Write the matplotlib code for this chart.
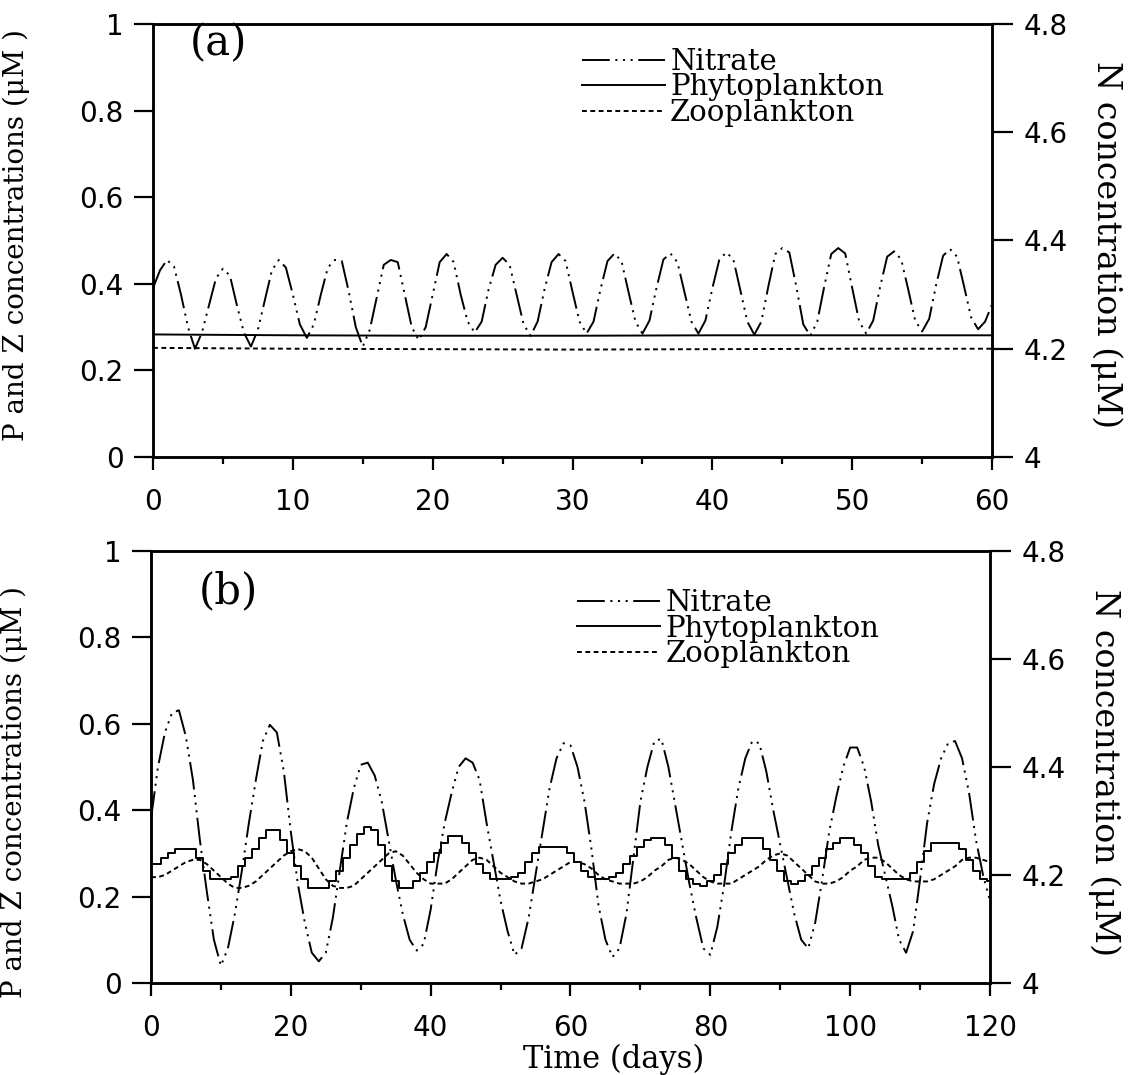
import numpy as np
import matplotlib.pyplot as plt

plt.rcParams['font.family'] = 'DejaVu Serif'
plt.rcParams['lines.scale_dashes'] = False

# (a) 60-day run, nitrate sampled every half day (uM N)
days_a = np.arange(0, 60.5, 0.5)
nitrate_a = [4.312, 4.345, 4.364, 4.352, 4.300, 4.240, 4.200, 4.230,
             4.280, 4.330, 4.348, 4.335, 4.280, 4.230, 4.204, 4.235,
             4.290, 4.345, 4.364, 4.350, 4.300, 4.245, 4.220, 4.245,
             4.300, 4.350, 4.364, 4.362, 4.305, 4.240, 4.204, 4.235,
             4.295, 4.355, 4.364, 4.360, 4.300, 4.240, 4.216, 4.240,
             4.300, 4.360, 4.375, 4.360, 4.300, 4.250, 4.230, 4.250,
             4.310, 4.355, 4.368, 4.355, 4.300, 4.245, 4.224, 4.250,
             4.310, 4.360, 4.375, 4.362, 4.305, 4.250, 4.228, 4.250,
             4.310, 4.362, 4.376, 4.362, 4.305, 4.250, 4.228, 4.252,
             4.312, 4.365, 4.376, 4.360, 4.305, 4.250, 4.228, 4.252,
             4.312, 4.365, 4.378, 4.365, 4.308, 4.250, 4.226, 4.250,
             4.315, 4.375, 4.386, 4.378, 4.315, 4.245, 4.224, 4.250,
             4.315, 4.375, 4.386, 4.376, 4.312, 4.250, 4.228, 4.252,
             4.315, 4.370, 4.380, 4.365, 4.310, 4.252, 4.232, 4.255,
             4.318, 4.372, 4.384, 4.370, 4.315, 4.258, 4.236, 4.250,
             4.282]
pz_days_a = [0, 10, 20, 30, 40, 50, 60]
phyto_a = [0.283, 0.281, 0.280, 0.280, 0.281, 0.281, 0.281]
zoo_a = [0.252, 0.250, 0.249, 0.248, 0.249, 0.250, 0.250]

# (b) 120-day run, daily values
days_b = np.arange(0, 121)
nitrate_b = [4.304, 4.400, 4.464, 4.500, 4.505, 4.456, 4.376, 4.264, 4.168, 4.080,
             4.032, 4.064, 4.128, 4.208, 4.296, 4.376, 4.448, 4.478, 4.464, 4.392,
             4.280, 4.184, 4.112, 4.056, 4.040, 4.056, 4.120, 4.208, 4.296, 4.360,
             4.404, 4.408, 4.384, 4.336, 4.264, 4.192, 4.128, 4.080, 4.060, 4.072,
             4.136, 4.224, 4.296, 4.352, 4.400, 4.416, 4.408, 4.376, 4.296, 4.224,
             4.152, 4.096, 4.052, 4.064, 4.120, 4.200, 4.280, 4.360, 4.416, 4.444,
             4.440, 4.400, 4.336, 4.248, 4.144, 4.080, 4.048, 4.064, 4.128, 4.232,
             4.336, 4.400, 4.448, 4.452, 4.400, 4.328, 4.256, 4.184, 4.120, 4.064,
             4.052, 4.104, 4.184, 4.280, 4.360, 4.416, 4.448, 4.444, 4.392, 4.320,
             4.256, 4.192, 4.128, 4.080, 4.064, 4.112, 4.192, 4.280, 4.344, 4.400,
             4.436, 4.436, 4.400, 4.336, 4.256, 4.200, 4.144, 4.080, 4.056, 4.096,
             4.192, 4.296, 4.368, 4.416, 4.444, 4.448, 4.416, 4.352, 4.264, 4.200,
             4.152]
phyto_b = [0.275, 0.275, 0.29, 0.30, 0.31, 0.31, 0.31, 0.29, 0.26, 0.24,
           0.24, 0.24, 0.245, 0.27, 0.29, 0.31, 0.335, 0.355, 0.355, 0.33,
           0.30, 0.27, 0.24, 0.22, 0.22, 0.22, 0.235, 0.26, 0.29, 0.32,
           0.345, 0.36, 0.355, 0.32, 0.27, 0.235, 0.22, 0.22, 0.235, 0.255,
           0.28, 0.30, 0.325, 0.34, 0.34, 0.325, 0.30, 0.275, 0.255, 0.24,
           0.24, 0.24, 0.245, 0.255, 0.28, 0.30, 0.315, 0.315, 0.315, 0.315,
           0.30, 0.28, 0.26, 0.245, 0.24, 0.24, 0.245, 0.255, 0.275, 0.295,
           0.315, 0.33, 0.335, 0.335, 0.32, 0.29, 0.26, 0.24, 0.23, 0.225,
           0.235, 0.25, 0.275, 0.30, 0.32, 0.335, 0.335, 0.335, 0.31, 0.285,
           0.26, 0.235, 0.23, 0.235, 0.25, 0.27, 0.29, 0.31, 0.325, 0.335,
           0.335, 0.32, 0.30, 0.27, 0.245, 0.24, 0.24, 0.24, 0.24, 0.255,
           0.28, 0.305, 0.325, 0.325, 0.325, 0.325, 0.31, 0.285, 0.26, 0.24,
           0.235]
zoo_b = [0.245, 0.245, 0.25, 0.26, 0.27, 0.28, 0.285, 0.285, 0.275, 0.26,
         0.245, 0.23, 0.22, 0.22, 0.225, 0.235, 0.25, 0.265, 0.28, 0.295,
         0.305, 0.31, 0.305, 0.29, 0.265, 0.24, 0.225, 0.22, 0.22, 0.225,
         0.24, 0.255, 0.27, 0.285, 0.30, 0.305, 0.295, 0.275, 0.255, 0.24,
         0.23, 0.23, 0.23, 0.24, 0.255, 0.27, 0.285, 0.29, 0.285, 0.27,
         0.255, 0.245, 0.235, 0.23, 0.23, 0.235, 0.24, 0.25, 0.26, 0.27,
         0.28, 0.28, 0.275, 0.265, 0.25, 0.24, 0.235, 0.23, 0.23, 0.23,
         0.235, 0.245, 0.26, 0.27, 0.285, 0.29, 0.285, 0.275, 0.26, 0.245,
         0.235, 0.23, 0.23, 0.23, 0.24, 0.25, 0.26, 0.27, 0.285, 0.295,
         0.30, 0.295, 0.28, 0.265, 0.25, 0.235, 0.23, 0.23, 0.235, 0.245,
         0.26, 0.27, 0.285, 0.29, 0.29, 0.28, 0.265, 0.25, 0.24, 0.235,
         0.235, 0.235, 0.24, 0.25, 0.26, 0.27, 0.285, 0.29, 0.29, 0.285,
         0.28]

left_ticks = [0, 0.2, 0.4, 0.6, 0.8, 1]
left_labels = ['0', '0.2', '0.4', '0.6', '0.8', '1']
right_ticks = [4, 4.2, 4.4, 4.6, 4.8]
right_labels = ['4', '4.2', '4.4', '4.6', '4.8']

nitrate_dash = (20, 4, 1.5, 4, 1.5, 4, 1.5, 4)
zoo_dash = (3.5, 2.5)
tick_font = {'family': 'DejaVu Sans', 'size': 20}

fig = plt.figure(figsize=(11.36, 10.75), dpi=100)
ax_a = fig.add_axes([0.1347, 0.5749, 0.7386, 0.4028])
ax_b = fig.add_axes([0.1329, 0.0856, 0.7386, 0.4019])


def setup(ax, xmax, major, minor, tag, tag_xy, ylab_y, nlab_y):
    ax2 = ax.twinx()
    ax.set_xlim(0, xmax)
    ax.set_ylim(0, 1)
    ax2.set_ylim(4, 4.8)
    ax.set_xticks(np.arange(0, xmax + 1, major))
    ax.set_xticklabels([str(v) for v in range(0, xmax + 1, major)], fontdict=tick_font)
    ax.set_xticks(np.arange(0, xmax + 1, minor), minor=True)
    ax.set_yticks(left_ticks)
    ax.set_yticklabels(left_labels, fontdict=tick_font)
    ax2.set_yticks(right_ticks)
    ax2.set_yticklabels(right_labels, fontdict=tick_font)
    ax.tick_params(axis='x', which='major', direction='out', length=9, width=1.6, pad=13)
    ax.tick_params(axis='x', which='minor', direction='out', length=5, width=1.6)
    ax.tick_params(axis='y', direction='out', length=14, width=1.6, pad=7)
    ax2.tick_params(axis='y', direction='out', length=15, width=1.6, pad=8)
    for a in (ax, ax2):
        for s in a.spines.values():
            s.set_linewidth(1.8)
    ax.set_ylabel('P and Z concentrations (\u03bcM )', fontsize=20)
    ax.yaxis.set_label_coords(-0.147, ylab_y)
    ax2.set_ylabel('N concentration (\u03bcM)', fontsize=24, rotation=270, va='center')
    ax2.yaxis.set_label_coords(1.136, nlab_y)
    ax.text(tag_xy[0], tag_xy[1], tag, transform=ax.transAxes, fontsize=30,
            ha='center', va='center')
    return ax2


def add_legend(ax2, handles, anchor):
    ax2.legend(handles, ['Nitrate', 'Phytoplankton', 'Zooplankton'],
               loc='upper left', bbox_to_anchor=anchor, frameon=False,
               fontsize=21, borderpad=0, borderaxespad=0, handlelength=2.85,
               handletextpad=0.18, labelspacing=-0.08)


ax2_a = setup(ax_a, 60, 10, 5, '(a)', (0.078, 0.955), 0.513, 0.49)
ln_n, = ax2_a.plot(days_a, nitrate_a, color='black', lw=1.4, dashes=nitrate_dash)
ln_p, = ax_a.plot(pz_days_a, phyto_a, color='black', lw=1.4)
ln_z, = ax_a.plot(pz_days_a, zoo_a, color='black', lw=1.4, dashes=zoo_dash)
add_legend(ax2_a, [ln_n, ln_p, ln_z], (0.511, 0.945))

ax2_b = setup(ax_b, 120, 20, 10, '(b)', (0.092, 0.907), 0.442, 0.488)
ln_n, = ax2_b.plot(days_b, nitrate_b, color='black', lw=1.4, dashes=nitrate_dash)
ln_p, = ax_b.plot(days_b, phyto_b, color='black', lw=1.4, drawstyle='steps-mid')
ln_z, = ax_b.plot(days_b, zoo_b, color='black', lw=1.4, dashes=zoo_dash)
add_legend(ax2_b, [ln_n, ln_p, ln_z], (0.508, 0.912))
ax_b.set_xlabel('Time (days)', fontsize=22)
ax_b.xaxis.set_label_coords(0.551, -0.14)

fig.savefig('out.png', dpi=100)
